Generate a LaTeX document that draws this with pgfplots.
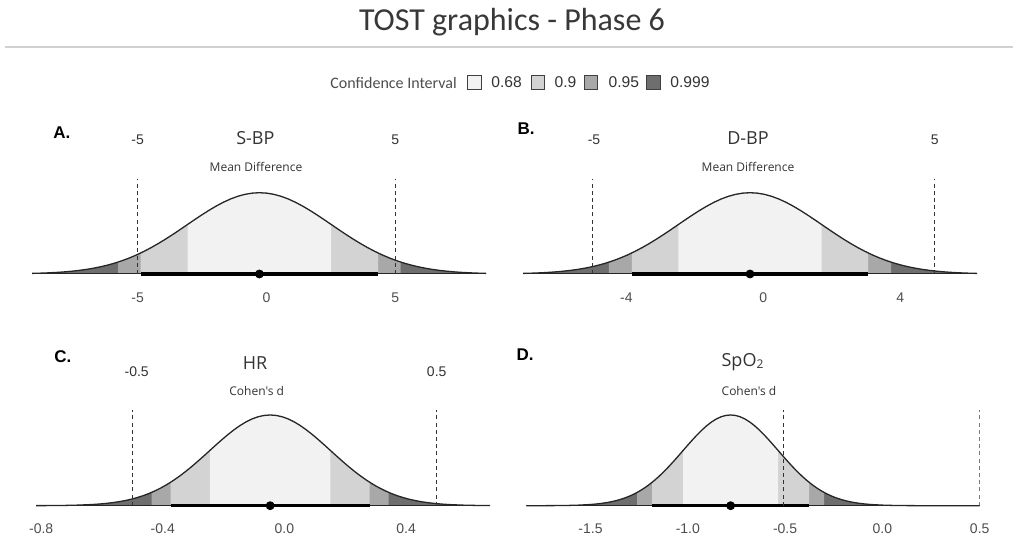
\documentclass[border=0pt]{standalone}
\usepackage{pgfplots}
\pgfplotsset{compat=1.18}
\usepgfplotslibrary{fillbetween}
\usepackage{pgfplotstable}
\usepackage{fontspec}
\setmainfont{Open Sans}
\newfontfamily\carlito{Carlito}
\newfontfamily\arial{Liberation Sans}
\newfontfamily\opensans{Open Sans}
\definecolor{c68}{HTML}{F2F2F2}
\definecolor{c90}{HTML}{D3D3D3}
\definecolor{c95}{HTML}{A8A8A8}
\definecolor{c999}{HTML}{6E6E6E}
\definecolor{tickgray}{HTML}{4D4D4D}
\definecolor{titlegray}{HTML}{333333}

% standard normal shape exp(-z^2/2)
\pgfplotstableread{
z y
-5.5 0.0000003
-5.0 0.0000037
-4.5 0.0000401
-4.0 0.0003355
-3.8 0.0007318
-3.6 0.0015338
-3.4 0.0030887
-3.2 0.0059760
-3.0 0.0111090
-2.9 0.0149207
-2.8 0.0198411
-2.7 0.0261214
-2.6 0.0340475
-2.5 0.0439369
-2.4 0.0561348
-2.3 0.0710054
-2.2 0.0889216
-2.1 0.1102512
-2.0 0.1353353
-1.9 0.1644744
-1.8 0.1978987
-1.7 0.2357461
-1.6 0.2780373
-1.5 0.3246525
-1.4 0.3753111
-1.3 0.4295572
-1.2 0.4867523
-1.1 0.5460744
-1.0 0.6065307
-0.9 0.6669768
-0.8 0.7261490
-0.7 0.7827045
-0.6 0.8352702
-0.5 0.8824969
-0.4 0.9231163
-0.3 0.9559975
-0.2 0.9801987
-0.1 0.9950125
0.0 1.0000000
0.1 0.9950125
0.2 0.9801987
0.3 0.9559975
0.4 0.9231163
0.5 0.8824969
0.6 0.8352702
0.7 0.7827045
0.8 0.7261490
0.9 0.6669768
1.0 0.6065307
1.1 0.5460744
1.2 0.4867523
1.3 0.4295572
1.4 0.3753111
1.5 0.3246525
1.6 0.2780373
1.7 0.2357461
1.8 0.1978987
1.9 0.1644744
2.0 0.1353353
2.1 0.1102512
2.2 0.0889216
2.3 0.0710054
2.4 0.0561348
2.5 0.0439369
2.6 0.0340475
2.7 0.0261214
2.8 0.0198411
2.9 0.0149207
3.0 0.0111090
3.2 0.0059760
3.4 0.0030887
3.6 0.0015338
3.8 0.0007318
4.0 0.0003355
4.5 0.0000401
5.0 0.0000037
5.5 0.0000003
}\normtab

\pgfplotsset{
  panel/.style={
    scale only axis,
    axis line style={draw=none},
    ytick=\empty,
    major tick length=0pt,
    xticklabel style={font=\arial\fontsize{7}{8}\selectfont, text=tickgray, anchor=center},
    clip=true,
  },
  curveline/.style={draw=black!85, line width=0.65pt},
  baseln/.style={draw=black!85, line width=0.5pt},
  ciline/.style={draw=black, line width=1.6pt},
  cidot/.style={only marks, mark=*, mark size=2pt, mark options={fill=black, draw=black}},
  bound/.style={draw=black!80, line width=0.5pt, dash pattern=on 2pt off 1.6pt},
}

\begin{document}
\begin{tikzpicture}
\path (0,0) rectangle (509pt,268.5pt);

% title
\node[font=\carlito\fontsize{16}{19}\selectfont, text=black!78] at (256pt,257.5pt) {TOST graphics - Phase 6};
\draw[draw=black!18, line width=0.6pt] (2.5pt,245pt) -- (506.5pt,245pt);

% legend
\node[anchor=west, inner sep=0pt, font=\carlito\fontsize{8}{9}\selectfont, text=tickgray] at (165pt,227.2pt) {Confidence Interval};
\draw[draw=black!75, line width=0.5pt, fill=c68] (233.85pt,223.85pt) rectangle (240.5pt,230.5pt);
\draw[draw=black!75, line width=0.5pt, fill=c90] (265.5pt,223.85pt) rectangle (272.15pt,230.5pt);
\draw[draw=black!75, line width=0.5pt, fill=c95] (292.15pt,223.85pt) rectangle (298.8pt,230.5pt);
\draw[draw=black!75, line width=0.5pt, fill=c999] (323.35pt,223.85pt) rectangle (330pt,230.5pt);
\node[anchor=west, inner sep=0pt, font=\arial\fontsize{7.8}{9}\selectfont, text=titlegray] at (245.5pt,227.2pt) {0.68};
\node[anchor=west, inner sep=0pt, font=\arial\fontsize{7.8}{9}\selectfont, text=titlegray] at (277.15pt,227.2pt) {0.9};
\node[anchor=west, inner sep=0pt, font=\arial\fontsize{7.8}{9}\selectfont, text=titlegray] at (304.15pt,227.2pt) {0.95};
\node[anchor=west, inner sep=0pt, font=\arial\fontsize{7.8}{9}\selectfont, text=titlegray] at (335pt,227.2pt) {0.999};

% ---------------- Panel A ----------------
\begin{axis}[panel, at={(16pt,127.44pt)}, anchor=south west,
  width=227pt, height=51.56pt, xmin=-9.10, xmax=8.52, ymin=-0.1, ymax=1.169,
  xtick={-5,0,5}, xticklabels={-5,0,5}, xticklabel style={yshift=-7.9pt}]
\addplot[draw=none, name path=curve, forget plot] table[x expr=\thisrow{z}*2.80-0.275, y=y]{\normtab};
\addplot[draw=none, name path=base, forget plot] coordinates {(-20,0) (20,0)};
\addplot[fill=c999, draw=none] fill between[of=curve and base, soft clip={domain=-9.10:8.52}];
\addplot[fill=c95, draw=none] fill between[of=curve and base, soft clip={domain=-5.76:5.21}];
\addplot[fill=c90, draw=none] fill between[of=curve and base, soft clip={domain=-4.88:4.33}];
\addplot[fill=c68, draw=none] fill between[of=curve and base, soft clip={domain=-3.06:2.51}];
\addplot[curveline] table[x expr=\thisrow{z}*2.80-0.275, y=y]{\normtab};
\addplot[baseln] coordinates {(-9.10,0) (8.52,0)};
\addplot[ciline] coordinates {(-4.88,0) (4.33,0)};
\addplot[cidot] coordinates {(-0.275,0)};
\addplot[bound] coordinates {(-5,0) (-5,1.169)};
\addplot[bound] coordinates {(5,0) (5,1.169)};
\end{axis}

% ---------------- Panel B ----------------
\begin{axis}[panel, at={(261.5pt,127.44pt)}, anchor=south west,
  width=227pt, height=51.56pt, xmin=-7.02, xmax=6.24, ymin=-0.1, ymax=1.169,
  xtick={-4,0,4}, xticklabels={-4,0,4}, xticklabel style={yshift=-7.9pt}]
\addplot[draw=none, name path=curve, forget plot] table[x expr=\thisrow{z}*2.10-0.39, y=y]{\normtab};
\addplot[draw=none, name path=base, forget plot] coordinates {(-20,0) (20,0)};
\addplot[fill=c999, draw=none] fill between[of=curve and base, soft clip={domain=-7.02:6.24}];
\addplot[fill=c95, draw=none] fill between[of=curve and base, soft clip={domain=-4.51:3.73}];
\addplot[fill=c90, draw=none] fill between[of=curve and base, soft clip={domain=-3.84:3.06}];
\addplot[fill=c68, draw=none] fill between[of=curve and base, soft clip={domain=-2.48:1.70}];
\addplot[curveline] table[x expr=\thisrow{z}*2.10-0.39, y=y]{\normtab};
\addplot[baseln] coordinates {(-7.02,0) (6.24,0)};
\addplot[ciline] coordinates {(-3.84,0) (3.06,0)};
\addplot[cidot] coordinates {(-0.39,0)};
\addplot[bound] coordinates {(-5,0) (-5,1.169)};
\addplot[bound] coordinates {(5,0) (5,1.169)};
\end{axis}

% ---------------- Panel C ----------------
\begin{axis}[panel, at={(18pt,11.11pt)}, anchor=south west,
  width=227pt, height=52.39pt, xmin=-0.817, xmax=0.676, ymin=-0.1, ymax=1.055,
  xtick={-0.8,-0.4,0,0.4}, xticklabels={-0.8,-0.4,0.0,0.4}, xticklabel style={yshift=-7.1pt}]
\addplot[draw=none, name path=curve, forget plot] table[x expr=\thisrow{z}*0.199-0.047, y=y]{\normtab};
\addplot[draw=none, name path=base, forget plot] coordinates {(-2,0) (2,0)};
\addplot[fill=c999, draw=none] fill between[of=curve and base, soft clip={domain=-0.702:0.608}];
\addplot[fill=c95, draw=none] fill between[of=curve and base, soft clip={domain=-0.437:0.343}];
\addplot[fill=c90, draw=none] fill between[of=curve and base, soft clip={domain=-0.374:0.280}];
\addplot[fill=c68, draw=none] fill between[of=curve and base, soft clip={domain=-0.245:0.151}];
\addplot[curveline] table[x expr=\thisrow{z}*0.199-0.047, y=y]{\normtab};
\addplot[baseln] coordinates {(-0.817,0) (0.676,0)};
\addplot[ciline] coordinates {(-0.374,0) (0.280,0)};
\addplot[cidot] coordinates {(-0.047,0)};
\addplot[bound] coordinates {(-0.5,0) (-0.5,1.055)};
\addplot[bound] coordinates {(0.5,0) (0.5,1.055)};
\end{axis}

% ---------------- Panel D ----------------
\begin{axis}[panel, at={(263.15pt,11.11pt)}, anchor=south west,
  width=226.7pt, height=52.39pt, xmin=-1.830, xmax=0.5, ymin=-0.1, ymax=1.055,
  xtick={-1.5,-1,-0.5,0,0.5}, xticklabels={-1.5,-1.0,-0.5,0.0,0.5}, xticklabel style={yshift=-7.1pt}]
\addplot[draw=none, name path=curve, forget plot] table[x expr=\thisrow{z}*0.245-0.78, y=y]{\normtab};
\addplot[draw=none, name path=base, forget plot] coordinates {(-3,0) (3,0)};
\addplot[fill=c999, draw=none] fill between[of=curve and base, soft clip={domain=-1.586:0.026}];
\addplot[fill=c95, draw=none] fill between[of=curve and base, soft clip={domain=-1.260:-0.300}];
\addplot[fill=c90, draw=none] fill between[of=curve and base, soft clip={domain=-1.183:-0.377}];
\addplot[fill=c68, draw=none] fill between[of=curve and base, soft clip={domain=-1.024:-0.536}];
\addplot[curveline] table[x expr=\thisrow{z}*0.245-0.78, y=y]{\normtab};
\addplot[baseln] coordinates {(-1.830,0) (0.5,0)};
\addplot[ciline] coordinates {(-1.183,0) (-0.377,0)};
\addplot[cidot] coordinates {(-0.78,0)};
\addplot[bound] coordinates {(-0.51,0) (-0.51,1.055)};
\addplot[bound] coordinates {(0.5,0) (0.5,1.055)};
\end{axis}

% panel annotations
\tikzset{plab/.style={anchor=west, inner sep=0pt, font=\arial\bfseries\fontsize{8.5}{10}\selectfont, text=black},
  toplab/.style={inner sep=0pt, font=\arial\fontsize{7}{8}\selectfont, text=titlegray},
  ptitle/.style={inner sep=0pt, font=\opensans\fontsize{9}{11}\selectfont, text=titlegray},
  psub/.style={inner sep=0pt, font=\opensans\fontsize{6}{7}\selectfont, text=titlegray}}

\node[plab] at (26.5pt,202pt) {A.};
\node[toplab] at (68.85pt,198.85pt) {-5};
\node[toplab] at (197.65pt,198.85pt) {5};
\node[ptitle] at (127.7pt,199.35pt) {S-BP};
\node[psub] at (128pt,184.85pt) {Mean Difference};

\node[plab] at (258.65pt,204pt) {B.};
\node[toplab] at (297pt,198.85pt) {-5};
\node[toplab] at (467.35pt,198.85pt) {5};
\node[ptitle] at (374pt,199.5pt) {D-BP};
\node[psub] at (374pt,185pt) {Mean Difference};

\node[plab] at (27pt,90.15pt) {C.};
\node[toplab] at (68.35pt,82.65pt) {-0.5};
\node[toplab] at (218.35pt,82.65pt) {0.5};
\node[ptitle] at (127.5pt,87pt) {HR};
\node[psub] at (128.35pt,72.75pt) {Cohen's d};

\node[plab] at (258.15pt,91pt) {D.};
\node[ptitle] at (371.5pt,87.5pt) {SpO\textsubscript{2}};
\node[psub] at (374.5pt,72.75pt) {Cohen's d};
\end{tikzpicture}
\end{document}
